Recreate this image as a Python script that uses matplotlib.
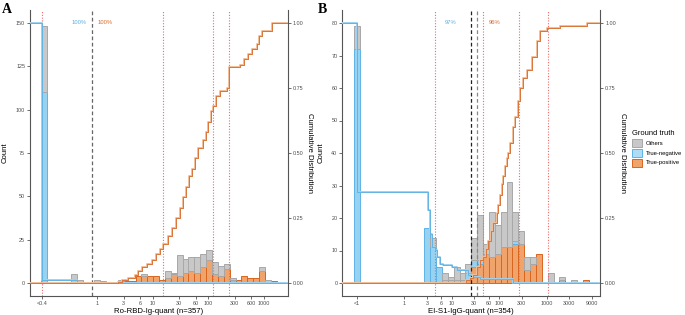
import numpy as np
import matplotlib.pyplot as plt
from matplotlib.patches import Patch

plt.rcParams['font.family'] = ['Liberation Sans', 'DejaVu Sans']

# ---- panel A: Ro-RBD-Ig-quant, histogram bins in log10 units (bin index k)
a_origin, a_width = 1.431, 0.106
a_bin = [-23, -18, -17, -14, -13, -10, -9, -8, -7, -6, -5, -4, -3, -2, -1,
         0, 1, 2, 3, 4, 5, 6, 7, 8, 9, 10, 11, 12, 13, 14, 15, 16]
a_oth = [38, 5, 2, 2, 1, 1, 0, 0, 0, 1, 0, 0, 0, 4, 1,
         12, 8, 8, 9, 8, 6, 7, 6, 3, 1, 0, 0, 0, 0, 2, 2, 0]
a_neg = [110, 0, 0, 0, 0, 0, 0, 0, 0, 0, 0, 0, 0, 0, 0,
         0, 0, 0, 0, 0, 0, 0, 0, 0, 0, 0, 0, 0, 0, 0, 0, 0]
a_pos = [0, 0, 0, 0, 0, 1, 1, 1, 4, 4, 4, 4, 2, 3, 5,
         4, 6, 7, 6, 9, 13, 5, 4, 8, 2, 2, 4, 3, 3, 7, 0, 1]

# cumulative distributions (step points)
a_pos_x = [0.06, 2.36, 2.8, 3.6, 4.8, 5.4, 6.4, 7.9, 9.7, 11.4, 13.5, 15.3, 18.8, 22, 26, 31, 35,
           40, 45, 51, 58, 65, 80, 91, 99, 112, 122, 138, 163, 217, 236, 372, 440,
           519, 613, 753, 818, 928, 1406, 2800]
a_pos_y = [0, 0.005, 0.01, 0.02, 0.03, 0.045, 0.06, 0.075, 0.09, 0.11, 0.13, 0.15, 0.18, 0.21,
           0.25, 0.29, 0.33, 0.37, 0.41, 0.44, 0.48, 0.52, 0.55, 0.58, 0.62, 0.66, 0.68,
           0.72, 0.74, 0.75, 0.83, 0.84, 0.86, 0.88, 0.9, 0.92, 0.95, 0.97, 1.0, 1.0]
a_neg_x = [0.06, 0.1, 0.43, 2800]
a_neg_y = [1.0, 0.012, 0.0, 0.0]

a_red = [0.1, 15.3, 123, 240]
a_cut = [0.81]
a_ticks = [0.1, 1, 3, 6, 10, 30, 60, 100, 300, 600, 1000]
a_ticklab = ['<0.4', '1', '3', '6', '10', '30', '60', '100', '300', '600', '1000']

# ---- panel B: EI-S1-IgG-quant
b_origin, b_width = 0.422, 0.124
b_bin = [-12, 0, 1, 2, 3, 4, 5, 6, 7, 8, 9, 10, 11, 12, 13, 14, 15, 16, 17, 18, 19,
         21, 23, 25, 27]
b_oth = [7, 0, 3, 0, 2, 1, 4, 2, 3, 7, 14, 3, 14, 9, 11, 20, 9, 4, 4, 2, 0,
         3, 1, 1, 0]
b_neg = [72, 17, 11, 5, 1, 1, 1, 1, 2, 2, 1, 0, 0, 0, 0, 0, 1, 0, 0, 0, 0,
         0, 0, 0, 0]
b_pos = [0, 0, 0, 0, 0, 0, 0, 0, 1, 5, 6, 9, 8, 9, 11, 11, 12, 12, 4, 6, 9,
         0, 1, 0, 1]

b_pos_x = [0.05, 20, 24, 28.6, 33.7, 39.5, 46.4, 53, 59, 67, 75.5, 89, 97, 104, 115, 123,
           133, 145, 156, 170, 199, 216, 254, 276, 324, 382, 487, 621, 730, 1010, 1928,
           7050, 14000]
b_pos_y = [0, 0.01, 0.02, 0.03, 0.06, 0.09, 0.10, 0.13, 0.16, 0.2, 0.23, 0.27, 0.3, 0.34,
           0.38, 0.41, 0.45, 0.48, 0.5, 0.54, 0.6, 0.64, 0.7, 0.75, 0.79, 0.82, 0.87, 0.93,
           0.97, 0.98, 0.99, 1.0, 1.0]
b_neg_x = [0.05, 0.1, 3.12, 3.24, 3.48, 3.79, 4.44, 4.9, 5.66, 6.65, 10, 12.7, 22.4, 28.6,
           39.5, 199, 14000]
b_neg_y = [1.0, 0.35, 0.33, 0.28, 0.19, 0.14, 0.126, 0.10, 0.075, 0.068, 0.062, 0.049,
           0.03, 0.023, 0.017, 0.0, 0.0]

b_red = [4.44, 46.4, 267, 1050]
b_cut = [25, 34]
b_ticks = [0.1, 1, 3, 6, 10, 30, 60, 100, 300, 1000, 3000, 9000]
b_ticklab = ['<1', '1', '3', '6', '10', '30', '60', '100', '300', '1000', '3000', '9000']

oth_fill, oth_edge = '#C8C8C8', '#A8A8A8'
neg_fill, neg_edge = '#97D2F1', '#5DB3E6'
pos_fill, pos_edge = '#F0A46C', '#D8651E'
blue_txt, orange_txt = '#5AB0E2', '#D86A2A'

fig = plt.figure(figsize=(6.85, 3.15), dpi=100)


def panel(rect, origin, width, bins, oth, neg, pos, px, py, nx, ny, ymax, ystep,
          xlim, reds, cuts, cut_cols, ticks, ticklab, xlabel, pct, pct_x):
    ax = fig.add_axes(rect)
    k = np.array(bins)
    left = 10 ** (origin + k * width)
    right = 10 ** (origin + (k + 1) * width)
    w = right - left
    pos = np.array(pos); neg = np.array(neg); oth = np.array(oth)
    for h, b, fc, ec in [(pos, 0 * pos, pos_fill, pos_edge),
                         (neg, pos, neg_fill, neg_edge),
                         (oth, pos + neg, oth_fill, oth_edge)]:
        m = h > 0
        ax.bar(left[m], h[m], width=w[m], bottom=b[m], align='edge',
               color=fc, edgecolor=ec, linewidth=0.7, zorder=2)
    ax.set_xscale('log')
    ax.set_xlim(*xlim)
    ax.set_ylim(-ymax * 0.05, ymax * 1.05)
    for xv in reds:
        ax.axvline(xv, color='#F06A6A', lw=0.8, ls=(0, (1, 1.5)), zorder=3)
    for xv, c in zip(cuts, cut_cols):
        ax.axvline(xv, color=c, lw=0.9, ls=(0, (3, 2)), zorder=3)
    # cumulative distributions scaled to count axis
    ax.step(nx, np.array(ny) * ymax, where='post', color='#9FD3F2', lw=1.4, zorder=4)
    ax.step(nx, np.array(ny) * ymax, where='post', color='#5AB0E2', lw=0.6, zorder=4)
    ax.step(px, np.array(py) * ymax, where='post', color='#F3BE97', lw=1.4, zorder=4)
    ax.step(px, np.array(py) * ymax, where='post', color='#D8692A', lw=0.6, zorder=4)
    ax.text(pct_x[0], ymax, pct[0], color=blue_txt, fontsize=4.2, ha='right', va='center')
    ax.text(pct_x[1], ymax, pct[1], color=orange_txt, fontsize=4.2, ha='left', va='center')

    ax.set_xticks(ticks)
    ax.set_xticklabels(ticklab)
    ax.minorticks_off()
    ax.set_yticks(np.arange(0, ymax + 1, ystep))
    ax.tick_params(labelsize=3.9, labelcolor='#4D4D4D', length=2, width=0.5, pad=1.5,
                   color='#333333')
    for s in ['top', 'right']:
        ax.spines[s].set_visible(False)
    for s in ['left', 'bottom']:
        ax.spines[s].set_color('#555555')
        ax.spines[s].set_linewidth(0.8)
    ax.set_xlabel(xlabel, fontsize=5.6, labelpad=1.5)
    ax.set_ylabel('Count', fontsize=5.6, labelpad=5)

    sec = ax.secondary_yaxis('right', functions=(lambda y: y / ymax, lambda y: y * ymax))
    sec.set_yticks([0, 0.25, 0.5, 0.75, 1.0])
    sec.set_yticklabels(['0.00', '0.25', '0.50', '0.75', '1.00'])
    sec.tick_params(labelsize=3.9, labelcolor='#4D4D4D', length=2, width=0.5, pad=1.5,
                    color='#333333')
    sec.spines['right'].set_color('#555555')
    sec.spines['right'].set_linewidth(0.8)
    sec.set_ylabel('Cumulative Distribution', fontsize=5.6, rotation=-90, labelpad=7)
    return ax


ax_a = panel([30 / 685, 19 / 315, 258 / 685, 286 / 315], a_origin, a_width, a_bin,
             a_oth, a_neg, a_pos, a_pos_x, a_pos_y, a_neg_x, a_neg_y, 150, 25,
             (10 ** -1.2126, 10 ** 3.436), a_red, a_cut, ['#666666'], a_ticks, a_ticklab,
             'Ro-RBD-Ig-quant (n=357)', ['100%', '100%'], [0.65, 0.99])
ax_b = panel([342.3 / 685, 19 / 315, 258 / 685, 286 / 315], b_origin, b_width, b_bin,
             b_oth, b_neg, b_pos, b_pos_x, b_pos_y, b_neg_x, b_neg_y, 80, 10,
             (10 ** -1.308, 10 ** 4.135), b_red, b_cut, ['#222222', '#888888'], b_ticks,
             b_ticklab, 'EI-S1-IgG-quant (n=354)', ['97%', '96%'], [12.9, 61.2])

fig.text(2 / 685, 1 - 3 / 315, 'A', fontsize=10, fontweight='bold', va='top',
         family='Liberation Serif')
fig.text(318 / 685, 1 - 3 / 315, 'B', fontsize=10, fontweight='bold', va='top',
         family='Liberation Serif')

handles = [Patch(facecolor=oth_fill, edgecolor=oth_edge, lw=0.7, label='Others'),
           Patch(facecolor='#AEDCF4', edgecolor=neg_edge, lw=0.7, label='True-negative'),
           Patch(facecolor=pos_fill, edgecolor=pos_edge, lw=0.7, label='True-positive')]
leg = fig.legend(handles=handles, loc='upper left', bbox_to_anchor=(631 / 685, 1 - 129 / 315),
                 frameon=False, fontsize=4.2, title='Ground truth', title_fontsize=5.4,
                 handlelength=1.75, handleheight=1.75, labelspacing=0.3, handletextpad=0.6,
                 alignment='left', borderaxespad=0, borderpad=0.2)

fig.savefig('out.png', dpi=100)
